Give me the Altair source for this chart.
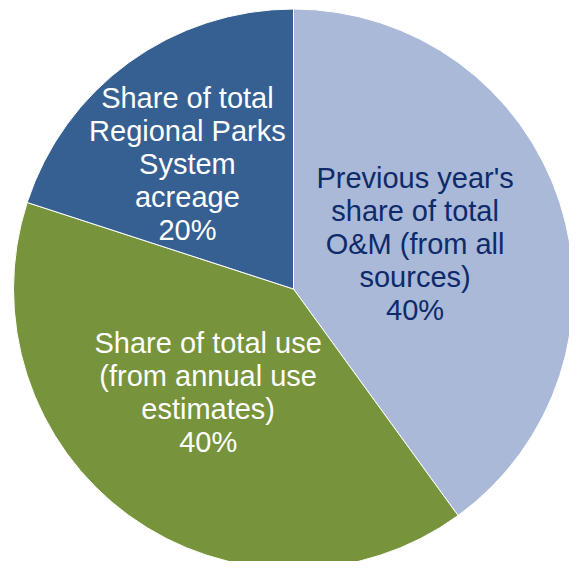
import altair as alt
import pandas as pd

categories = [
    "Previous year's share of total O&M (from all sources)",
    "Share of total use (from annual use estimates)",
    "Share of total Regional Parks System acreage",
]
values = [40, 40, 20]
order = [1, 2, 3]
labels = [
    ["Previous year's", "share of total", "O&M (from all", "sources)", "40%"],
    ["Share of total use", "(from annual use", "estimates)", "40%"],
    ["Share of total", "Regional Parks", "System", "acreage", "20%"],
]
colors = ["#A9B9D7", "#77933C", "#376092"]
text_colors = ["#0E2A6B", "#FFFFFF", "#FFFFFF"]

df = pd.DataFrame({
    "category": categories,
    "value": values,
    "order": order,
    "label": labels,
})

base = alt.Chart(df).encode(
    theta=alt.Theta("value:Q", stack=True),
    order=alt.Order("order:Q"),
)

pie = base.mark_arc(outerRadius=280, stroke="#FFFFFF", strokeWidth=1).encode(
    color=alt.Color("category:N", scale=alt.Scale(domain=categories, range=colors), legend=None)
)

layers = [pie]
offsets = [(131, -3, -70), (135, -6, -54), (155, -15, -65)]
for i, cat in enumerate(categories):
    r, dx, dy = offsets[i]
    t = base.mark_text(
        radius=r, dx=dx, dy=dy, font="Liberation Sans", fontSize=29, lineHeight=33,
        align="center", baseline="middle", color=text_colors[i],
    ).encode(
        text="label",
        opacity=alt.condition(alt.datum.category == cat, alt.value(1), alt.value(0)),
    )
    layers.append(t)

chart = alt.layer(*layers).properties(
    width=551, height=544,
    padding={"left": 10, "top": 9, "right": 0, "bottom": 0},
    autosize="none",
).configure_view(stroke=None)

chart.save("out.html", embed_options={"renderer": "svg", "actions": False})
